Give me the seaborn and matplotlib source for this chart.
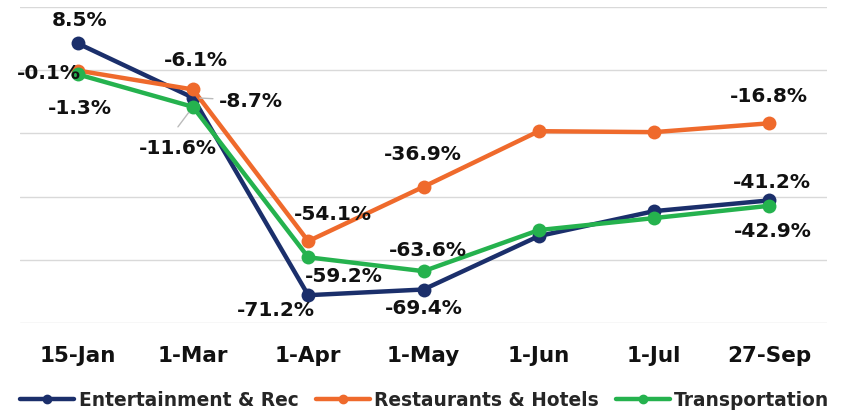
import pandas as pd
import matplotlib
matplotlib.use('Agg')
import matplotlib.pyplot as plt
from matplotlib.lines import Line2D
import seaborn as sb

dates = ['15-Jan', '1-Mar', '1-Apr', '1-May', '1-Jun', '1-Jul', '27-Sep']
entertainment = [8.5, -8.7, -71.2, -69.4, -52.5, -44.6, -41.2]
restaurants = [-0.1, -6.1, -54.1, -36.9, -19.3, -19.6, -16.8]
transportation = [-1.3, -11.6, -59.2, -63.6, -50.6, -46.8, -42.9]

names = ['Entertainment & Rec', 'Restaurants & Hotels', 'Transportation']
colors = ['#1B2F6B', '#EF6A2C', '#25B24E']

# which points get a label, and where (pixel offsets from the point)
label_offsets = {
    'Entertainment & Rec': {0: (2, 24, 'center'), 1: (26, -3, 'left'), 2: (-32, -14, 'center'),
                            3: (0, -18, 'center'), 6: (3, 19, 'center')},
    'Restaurants & Hotels': {0: (-29, -2, 'center'), 1: (3, 30, 'center'), 2: (25, 28, 'center'),
                             3: (-1, 33, 'center'), 6: (0, 28, 'center')},
    'Transportation': {0: (2, -33, 'center'), 1: (-15, -41, 'center'), 2: (36, -18, 'center'),
                       3: (4, 22, 'center'), 6: (3, -25, 'center')},
}

df = pd.DataFrame({
    'date': dates * 3,
    'value': entertainment + restaurants + transportation,
    'series': [n for n in names for _ in dates],
})

sb.set_style('white')
plt.rcParams['font.family'] = ['DejaVu Sans']

fig = plt.figure(figsize=(8.5, 4.14), dpi=100)
ax = fig.add_axes([20 / 850, 90 / 414, 807 / 850, 316 / 414])

sb.lineplot(data=df, x='date', y='value', hue='series', hue_order=names,
            palette=colors, marker='o', markersize=10, markeredgewidth=0,
            linewidth=3.2, sort=False, legend=False, ax=ax)

ax.set_xlim(-0.5, 6.5)
ax.set_ylim(-80, 20)
ax.set_yticks([-80, -60, -40, -20, 0, 20])
ax.yaxis.grid(True, color='#D9D9D9', linewidth=1)
ax.set_axisbelow(True)
ax.tick_params(axis='y', left=False, labelleft=False)
ax.tick_params(axis='x', bottom=False, pad=12)
for s in ax.spines.values():
    s.set_visible(False)
ax.set_xlabel('')
ax.set_ylabel('')
for lab in ax.get_xticklabels():
    lab.set_fontweight('bold')
    lab.set_fontsize(15.5)
    lab.set_color('#111111')

series_vals = {'Entertainment & Rec': entertainment, 'Restaurants & Hotels': restaurants,
               'Transportation': transportation}
for name in names:
    vals = series_vals[name]
    for i, (dx, dy, ha) in label_offsets[name].items():
        ax.annotate(f'{vals[i]:.1f}%', (i, vals[i]), xytext=(dx, dy),
                    textcoords='offset pixels', ha=ha, va='center',
                    fontsize=14.5, fontweight='bold', color='#111111')

# small leader lines like in the original
ax.annotate('', (1, entertainment[1]), xytext=(20, -1), textcoords='offset pixels',
            arrowprops=dict(arrowstyle='-', color='#BBBBBB', lw=1, shrinkA=0, shrinkB=5))
ax.annotate('', (1, transportation[1]), xytext=(-15, -20), textcoords='offset pixels',
            arrowprops=dict(arrowstyle='-', color='#BBBBBB', lw=1, shrinkA=0, shrinkB=5))

handles = [Line2D([], [], color=c, lw=3.2, marker='o', markersize=6) for c in colors]
leg = fig.legend(handles, names, loc='center', bbox_to_anchor=(0.5, 13 / 414), ncol=3,
                 frameon=False, handlelength=2.9, handletextpad=0.25, columnspacing=0.9,
                 prop={'weight': 'bold', 'size': 13.4})

fig.savefig('out.png', dpi=100)
